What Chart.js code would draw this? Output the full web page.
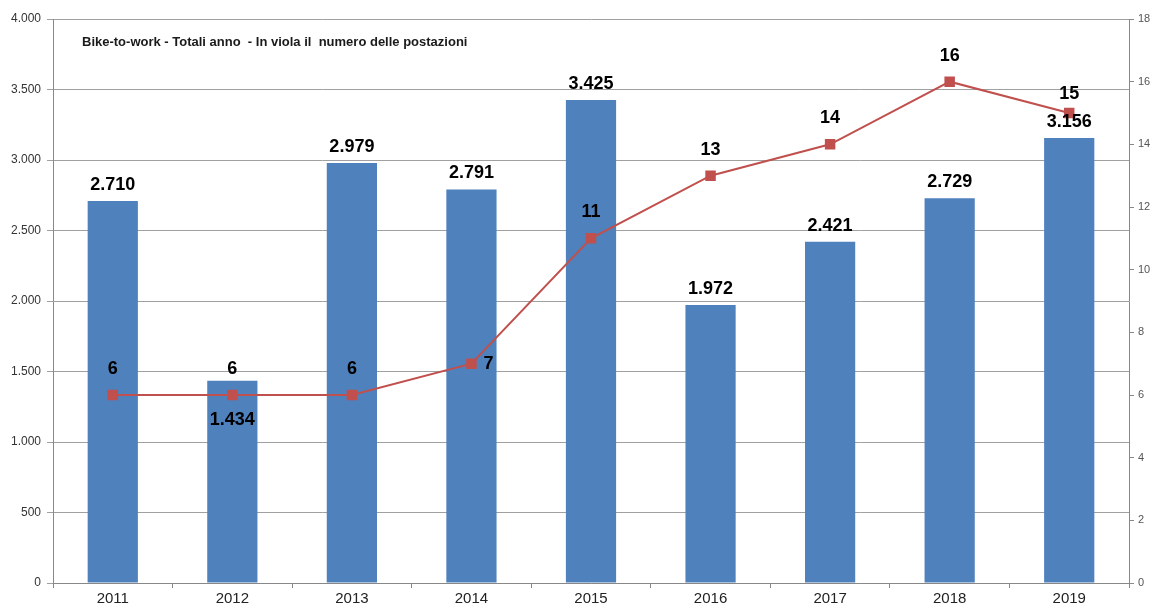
<!DOCTYPE html>
<html>
<head>
<meta charset="utf-8">
<script src="https://cdn.jsdelivr.net/npm/chart.js@4.4.1/dist/chart.umd.min.js"></script>
<style>
    html, body { margin: 0; padding: 0; background: #fff; }
    #wrap { width: 1156px; height: 611px; }
</style>
</head>
<body>
<div id="wrap"><canvas id="chart" width="1156" height="611"></canvas></div>
<script>
const years = ['2011', '2012', '2013', '2014', '2015', '2016', '2017', '2018', '2019'];
const totals = [2710, 1434, 2979, 2791, 3425, 1972, 2421, 2729, 3156];
const postazioni = [6, 6, 6, 7, 11, 13, 14, 16, 15];
const chartTitle = 'Bike-to-work - Totali anno  - In viola il  numero delle postazioni';

const fmt = v => v.toLocaleString('it-IT');

// label tweaks, as in the original sheet
const barLabelShift = { 1: 39 };
const lineLabelShift = { 3: [17, 0], 8: [0, -19] };

const labelsPlugin = {
    id: 'valueLabels',
    afterDatasetsDraw(chart) {
        const ctx = chart.ctx;
        ctx.save();
        ctx.fillStyle = '#000';
        ctx.textAlign = 'center';
        ctx.textBaseline = 'middle';
        ctx.font = 'bold 18px "Liberation Sans", Arial, sans-serif';

        chart.getDatasetMeta(0).data.forEach((bar, i) => {
            const dy = barLabelShift[i] !== undefined ? barLabelShift[i] : -16;
            ctx.fillText(fmt(totals[i]), bar.x, bar.y + dy);
        });
        chart.getDatasetMeta(1).data.forEach((pt, i) => {
            const s = lineLabelShift[i] || [0, -26];
            ctx.fillText(String(postazioni[i]), pt.x + s[0], pt.y + s[1]);
        });

        // title inside the plot area
        const a = chart.chartArea;
        ctx.textAlign = 'left';
        ctx.font = 'bold 13px "Liberation Sans", Arial, sans-serif';
        ctx.fillStyle = '#1a1a1a';
        ctx.fillText(chartTitle, a.left + 29, a.top + 23);
        ctx.restore();
    }
};

function fixSize(w, h) {
    return scale => {
        if (w !== null) scale.width = w;
        if (h !== null) scale.height = h;
        scale.paddingTop = 0;
        scale.paddingBottom = 0;
        scale.paddingLeft = 0;
        scale.paddingRight = 0;
    };
}

new Chart(document.getElementById('chart'), {
    data: {
        labels: years,
        datasets: [
            {
                type: 'bar',
                label: 'Totali',
                data: totals,
                yAxisID: 'y',
                backgroundColor: '#4F81BD',
                barPercentage: 0.42,
                categoryPercentage: 1,
                order: 1
            },
            {
                type: 'line',
                label: 'Postazioni',
                data: postazioni,
                yAxisID: 'y1',
                borderColor: '#C0504D',
                backgroundColor: '#C0504D',
                borderWidth: 2,
                pointStyle: 'rect',
                pointRadius: 6,
                pointHoverRadius: 6,
                tension: 0,
                order: 0
            }
        ]
    },
    options: {
        responsive: false,
        animation: false,
        layout: { padding: { top: 19, left: 0, right: 0, bottom: 0 } },
        plugins: {
            legend: { display: false },
            tooltip: { enabled: false }
        },
        scales: {
            x: {
                afterFit: fixSize(null, 28),
                grid: { drawOnChartArea: false, drawTicks: true, tickLength: 5, color: '#888' },
                border: { color: '#888' },
                ticks: { color: '#222', font: { size: 15, family: '"Liberation Sans", Arial, sans-serif' }, padding: 2 }
            },
            y: {
                position: 'left',
                min: 0,
                max: 4000,
                afterFit: fixSize(53, null),
                grid: { color: '#a0a0a0', tickLength: 6 },
                border: { color: '#888' },
                ticks: {
                    stepSize: 500,
                    color: '#333',
                    padding: 6,
                    font: { size: 12, family: '"Liberation Sans", Arial, sans-serif' },
                    callback: v => fmt(v)
                }
            },
            y1: {
                position: 'right',
                min: 0,
                max: 18,
                afterFit: fixSize(27, null),
                grid: { drawOnChartArea: false, tickLength: 5, color: '#888' },
                border: { color: '#888' },
                ticks: {
                    stepSize: 2,
                    color: '#555',
                    padding: 4,
                    font: { size: 11, family: '"Liberation Sans", Arial, sans-serif' }
                }
            }
        }
    },
    plugins: [labelsPlugin]
});
</script>
</body>
</html>
